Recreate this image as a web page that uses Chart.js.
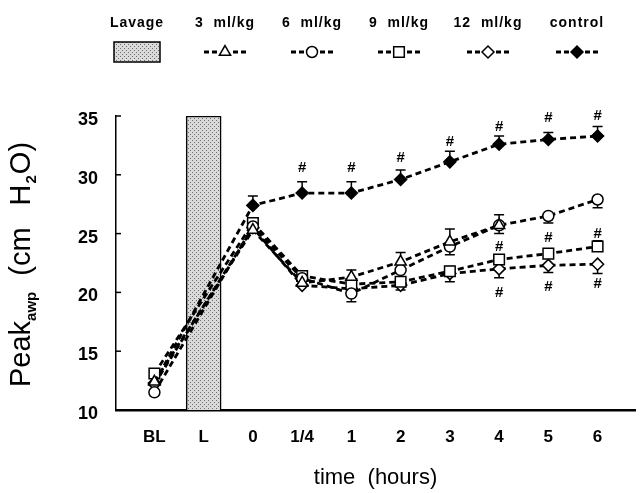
<!DOCTYPE html>
<html>
<head>
<meta charset="utf-8">
<script src="https://cdn.jsdelivr.net/npm/chart.js@4/dist/chart.umd.min.js"></script>
<style>
  html, body { margin: 0; padding: 0; background: #fff; }
  #wrap { position: relative; width: 644px; height: 493px; }
</style>
</head>
<body>
<div id="wrap"><canvas id="chart"></canvas></div>
<script>
const categories = ["BL", "L", "0", "1/4", "1", "2", "3", "4", "5", "6"];
const yTicks = [10, 15, 20, 25, 30, 35];

const lavage = [null, 35, null, null, null, null, null, null, null, null];
const ml3 = [12.4, null, 25.3, 20.8, 21.3, 22.6, 24.3, 25.7, null, null];
const ml6 = [11.5, null, 25.6, 21.2, 19.9, 21.9, 23.9, 25.7, 26.5, 27.9];
const ml9 = [13.1, null, 25.9, 21.4, 20.7, 20.9, 21.8, 22.8, 23.3, 23.9];
const ml12 = [12.2, null, 25.5, 20.6, 20.3, 20.6, 21.6, 22.0, 22.3, 22.4];
const control = [12.3, null, 27.4, 28.45, 28.45, 29.6, 31.1, 32.6, 33.0, 33.3];

// error bars: + drawn upward, - drawn downward
const ml3Err = [null, null, null, null, 0.6, 0.8, 1.1, 0.9, null, null];
const ml6Err = [null, null, null, null, -0.7, null, -0.7, -0.7, -0.6, -0.7];
const ml9Err = [null, null, null, null, null, null, 0.4, null, null, 0.5];
const ml12Err = [null, null, null, null, null, -0.4, -0.7, -0.75, -0.6, -0.8];
const controlErr = [null, null, 0.8, 0.95, 0.95, 0.8, 0.9, 0.7, 0.6, 0.8];

// significance marks (#)
const hashX = [3, 4, 5, 6, 7, 8, 9, 7, 8, 9, 7, 8, 9];
const hashY = [30.6, 30.6, 31.45, 32.8, 34.1, 34.8, 35.0, 23.9, 24.6, 24.95, 20.0, 20.5, 20.7];

const FONT = '"Liberation Sans", Arial, sans-serif';

function stipple() {
  const c = document.createElement("canvas");
  c.width = 4; c.height = 4;
  const g = c.getContext("2d");
  g.fillStyle = "#dadada";
  g.fillRect(0, 0, 4, 4);
  g.fillStyle = "#6e6e6e";
  g.fillRect(0, 0, 1, 1);
  g.fillRect(2, 2, 1, 1);
  return g.createPattern(c, "repeat");
}
const pattern = stipple();

function pts(arr) {
  return arr.map((v, i) => ({ x: i, y: v }));
}

function lineSet(label, data, err, style, radius, fill) {
  return {
    type: "line",
    label: label,
    data: pts(data),
    err: err,
    borderColor: "#000",
    borderWidth: 2.8,
    borderDash: [6, 4],
    pointStyle: style,
    pointRadius: radius,
    pointBackgroundColor: fill,
    pointBorderColor: "#000",
    pointBorderWidth: 1.5,
    spanGaps: true,
    tension: 0,
    order: 0,
  };
}

const errorBars = {
  id: "errorBars",
  beforeDatasetsDraw(chart) {
    const { ctx, scales: { x, y } } = chart;
    ctx.save();
    ctx.strokeStyle = "#000";
    ctx.lineWidth = 1.5;
    chart.data.datasets.forEach((ds) => {
      if (!ds.err) return;
      ds.err.forEach((e, i) => {
        if (e == null || ds.data[i].y == null) return;
        const px = x.getPixelForValue(i);
        const y0 = y.getPixelForValue(ds.data[i].y);
        const y1 = y.getPixelForValue(ds.data[i].y + e);
        ctx.beginPath();
        ctx.moveTo(px, y0);
        ctx.lineTo(px, y1);
        ctx.moveTo(px - 5, y1);
        ctx.lineTo(px + 5, y1);
        ctx.stroke();
      });
    });
    ctx.restore();
  },
  afterDatasetsDraw(chart) {
    const { ctx, scales: { x, y } } = chart;
    ctx.save();
    ctx.fillStyle = "#000";
    ctx.font = "bold 15px " + FONT;
    ctx.textAlign = "center";
    ctx.textBaseline = "middle";
    hashX.forEach((hx, i) => {
      ctx.fillText("#", x.getPixelForValue(hx), y.getPixelForValue(hashY[i]));
    });
    // inward ticks on the y axis
    ctx.strokeStyle = "#000";
    ctx.lineWidth = 1.5;
    y.ticks.forEach((t) => {
      const py = y.getPixelForValue(t.value);
      ctx.beginPath();
      ctx.moveTo(chart.chartArea.left, py);
      ctx.lineTo(chart.chartArea.left + 5, py);
      ctx.stroke();
    });
    ctx.restore();
  },
};

const topLegend = {
  id: "topLegend",
  afterDraw(chart) {
    const ctx = chart.ctx;
    const centers = [137, 225, 312, 399, 488, 577];
    ctx.save();
    ctx.fillStyle = "#000";
    ctx.strokeStyle = "#000";
    ctx.textAlign = "center";
    ctx.textBaseline = "middle";
    chart.data.datasets.forEach((ds, i) => {
      const c = centers[i];
      ctx.font = "bold 14px " + FONT;
      ctx.letterSpacing = "1px";
      ctx.fillText(ds.label, c, 23);
      ctx.letterSpacing = "0px";
      if (ds.type === "bar") {
        ctx.fillStyle = pattern;
        ctx.fillRect(c - 23, 42, 46, 20);
        ctx.lineWidth = 1.5;
        ctx.strokeRect(c - 23, 42, 46, 20);
        ctx.fillStyle = "#000";
        return;
      }
      ctx.lineWidth = 2.8;
      ctx.setLineDash([5, 3]);
      ctx.beginPath();
      ctx.moveTo(c - 21, 52); ctx.lineTo(c - 8, 52);
      ctx.moveTo(c + 8, 52); ctx.lineTo(c + 21, 52);
      ctx.stroke();
      ctx.setLineDash([]);
      ctx.lineWidth = 1.5;
      ctx.fillStyle = ds.pointBackgroundColor;
      Chart.helpers.drawPoint(ctx, { pointStyle: ds.pointStyle, radius: ds.pointRadius, rotation: 0, borderWidth: 1.5 }, c, 52);
      ctx.fillStyle = "#000";
    });
    ctx.restore();
  },
};

const yTitle = {
  id: "yTitle",
  afterDraw(chart) {
    const ctx = chart.ctx;
    ctx.save();
    ctx.translate(30, 387);
    ctx.rotate(-Math.PI / 2);
    ctx.fillStyle = "#000";
    ctx.textBaseline = "alphabetic";
    ctx.textAlign = "left";
    let u = 0;
    const big = "29px " + FONT;
    const small = "bold 15px " + FONT;
    const put = (t, font, dy, gap) => {
      ctx.font = font;
      ctx.fillText(t, u, dy);
      u += ctx.measureText(t).width + (gap || 0);
    };
    put("Peak", big, 0);
    put("awp", small, 6, 16);
    put("(cm", big, 0, 22);
    put("H", big, 0, 1);
    put("2", small, 6, 1);
    put("O)", big, 0);
    ctx.restore();
  },
};

new Chart(document.getElementById("chart"), {
  type: "line",
  data: {
    datasets: [
      {
        type: "bar",
        label: "Lavage",
        data: pts(lavage).filter((p) => p.y != null),
        backgroundColor: pattern,
        borderColor: "#000",
        borderWidth: 1.5,
        borderSkipped: false,
        barThickness: 35,
        order: 5,
      },
      lineSet("3  ml/kg", ml3, ml3Err, "triangle", 6.5, "#fff"),
      lineSet("6  ml/kg", ml6, ml6Err, "circle", 5.5, "#fff"),
      lineSet("9  ml/kg", ml9, ml9Err, "rect", 7.5, "#fff"),
      lineSet("12  ml/kg", ml12, ml12Err, "rectRot", 6, "#fff"),
      lineSet("control", control, controlErr, "rectRot", 6, "#000"),
    ],
  },
  options: {
    responsive: true,
    maintainAspectRatio: false,
    animation: false,
    devicePixelRatio: 1,
    layout: { padding: { top: 116, left: 0, right: 0, bottom: 0 } },
    plugins: { legend: { display: false }, tooltip: { enabled: false } },
    scales: {
      x: {
        type: "linear",
        min: -0.78,
        max: 9.76,
        offset: false,
        grid: { display: false, drawTicks: false, offset: false },
        border: { display: true, color: "#000", width: 2.5 },
        afterBuildTicks: (s) => { s.ticks = categories.map((_, i) => ({ value: i })); },
        afterFit: (s) => { s.height = 83; },
        ticks: {
          autoSkip: false,
          maxRotation: 0,
          padding: 17,
          color: "#000",
          font: { family: FONT, size: 17, weight: "bold" },
          callback: (v) => categories[v] ?? "",
        },
        title: {
          display: true,
          text: "time  (hours)",
          color: "#000",
          font: { family: FONT, size: 22 },
          padding: { top: 0, bottom: 2 },
        },
      },
      y: {
        min: 10,
        max: 35,
        grid: { display: false, drawTicks: false },
        border: { display: true, color: "#000", width: 1.5 },
        afterBuildTicks: (s) => { s.ticks = yTicks.map((v) => ({ value: v })); },
        afterFit: (s) => { s.width = 116; },
        ticks: {
          padding: 18,
          labelOffset: 4,
          color: "#000",
          font: { family: FONT, size: 18, weight: "bold" },
        },
      },
    },
  },
  plugins: [errorBars, topLegend, yTitle],
});
</script>
</body>
</html>
